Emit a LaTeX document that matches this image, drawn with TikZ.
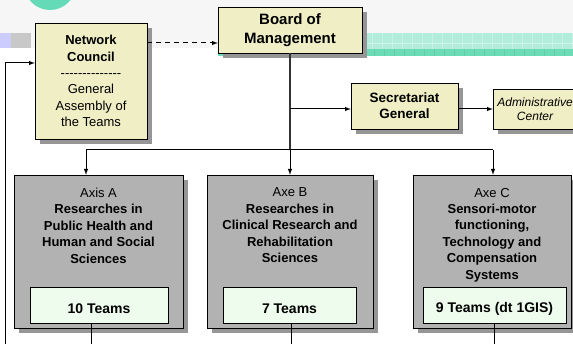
\documentclass[tikz,border=0pt]{standalone}
\usepackage{fontspec}
\setmainfont{Liberation Sans}
\usepackage{tikz}
\usetikzlibrary{arrows,shapes}
\usetikzlibrary{positioning}
\usetikzlibrary{shadows}
\definecolor{cream}{RGB}{240,238,196}
\definecolor{axisgray}{RGB}{178,178,178}
\definecolor{mint}{RGB}{238,252,238}
\definecolor{shadowgray}{RGB}{150,150,150}
\definecolor{bandgray}{RGB}{246,246,246}
\definecolor{tealpale}{RGB}{178,236,218}
\definecolor{tealdeep}{RGB}{108,220,182}
\definecolor{tealball}{RGB}{100,218,182}
\definecolor{lilac}{RGB}{204,204,255}
\definecolor{squaregray}{RGB}{200,200,200}
\tikzset{
    boxshadow/.style={drop shadow={shadow xshift=5pt, shadow yshift=-5pt, fill=shadowgray, opacity=1}},
    mainbox/.style={draw=black, fill=cream, boxshadow, align=center, inner sep=0pt,
        font=\bfseries\fontsize{13}{16.4}\selectfont},
    axisbox/.style={draw=black, fill=axisgray, boxshadow, inner sep=0pt, minimum height=153pt},
    axistext/.style={align=center, inner sep=0pt, font=\fontsize{13}{16.4}\selectfont},
    teambox/.style={draw=black, fill=mint, inner sep=0pt, minimum height=36pt},
    teamtext/.style={font=\bfseries\fontsize{14}{16}\selectfont, yshift=-4pt},
    link/.style={draw=black, line width=1pt, -latex},
    dashlink/.style={link, dash pattern=on 5pt off 4pt},
    plainlink/.style={draw=black, line width=1pt},
}

\begin{document}
\begin{tikzpicture}[x=1pt, y=-1pt]
	% page and template band
	\useasboundingbox (0,0) rectangle (573,344);
	\fill[white] (0,0) rectangle (573,344);
	\fill[bandgray] (0,0) rectangle (573,33);
	\fill[bandgray] (0,33) rectangle (218,48);
	\fill[tealpale] (218,33) rectangle (573,49);
	\fill[tealdeep] (218,49) rectangle (573,56);
	\foreach \x in {222,232,...,572}
		\draw[white, opacity=.3, line width=.5pt] (\x,33) -- (\x,49);
	\draw[white, opacity=.4, line width=.5pt] (218,43) -- (573,43);
	\foreach \x in {224,234,...,572}
		\draw[tealdeep!70!black, opacity=.25, line width=.5pt] (\x,49) -- (\x,56);
	\fill[lilac] (0,33) rectangle (11,48);
	\fill[squaregray] (11,33) rectangle (31,48);
	\fill[tealball] (50,-16) circle[radius=26pt];

	% boxes
	\node[mainbox, minimum width=112pt, minimum height=116pt] (council) at (91,81)
		{Network\\Council\\\textmd{-{}-{}-{}-{}-{}-{}-{}-{}-{}-{}-{}-{}-{}-}\\\textmd{General}\\\textmd{Assembly of}\\\textmd{the Teams}};
	\node[mainbox, minimum width=144pt, minimum height=46pt,
		font=\bfseries\fontsize{15}{19}\selectfont] (board) at (290,30) {Board of\\Management};
	\node[mainbox, minimum width=107pt, minimum height=46pt,
		font=\bfseries\fontsize{13.5}{16}\selectfont] (secr) at (404.5,106) {Secretariat\\General};
	\node[mainbox, minimum width=84pt, minimum height=40pt,
		font=\itshape\fontsize{12}{14.5}\selectfont] (admin) at (535,109) {Administrative\\Center};

	\node[axisbox, minimum width=169pt] (axisA) at (98.5,251.5) {};
	\node[axisbox, minimum width=166pt] (axeB) at (290,251.5) {};
	\node[axisbox, minimum width=158pt] (axeC) at (492,251.5) {};
	\node[axistext, below=13pt of axisA.north] (axisAtext)
		{Axis A\\\textbf{Researches in}\\\textbf{Public Health and}\\\textbf{Human and Social}\\\textbf{Sciences}};
	\node[axistext, below=13pt of axeB.north] (axeBtext)
		{Axe B\\\textbf{Researches in}\\\textbf{Clinical Research and}\\\textbf{Rehabilitation}\\\textbf{Sciences}};
	\node[axistext, below=13pt of axeC.north] (axeCtext)
		{Axe C\\\textbf{Sensori-motor}\\\textbf{functioning,}\\\textbf{Technology and}\\\textbf{Compensation}\\\textbf{Systems}};

	\node[teambox, minimum width=138pt, label={[teamtext]center:10 Teams}] (teamsA) at (99,305) {};
	\node[teambox, minimum width=133pt, label={[teamtext]center:7 Teams}] (teamsB) at (289.5,305) {};
	\node[teambox, minimum width=143pt, label={[teamtext]center:9 Teams (dt 1GIS)}] (teamsC) at (494.5,305) {};

	% connectors
	\coordinate (dashy) at (0,43);
	\coordinate (split) at (0,150);
	\coordinate (splitA) at (86,150);
	\coordinate (splitC) at (493,150);
	\coordinate (loopin) at (0,63);
	\coordinate (loopfoot) at (5,352);
	\coordinate (footA) at (91,352);
	\coordinate (footB) at (291,352);
	\coordinate (footC) at (494,352);
	\draw[dashlink] (council.east |- dashy) -- (board.west |- dashy);
	\draw[plainlink, line width=1.3pt, draw=black!80] (board.south) -- (board.south |- split);
	\draw[plainlink] (splitA) -- (splitC);
	\draw[link] (splitA) -- (splitA |- axisA.north);
	\draw[link] (board.south |- split) -- (axeB.north);
	\draw[link] (splitC) -- (splitC |- axeC.north);
	\draw[link] (board.south |- admin.west) -- (secr.west |- admin.west);
	\draw[link] (secr.east |- admin.west) -- (admin.west);
	\draw[link] (loopfoot) |- (council.west |- loopin);
	\draw[plainlink] (teamsA.south -| footA) -- (footA);
	\draw[plainlink] (teamsB.south -| footB) -- (footB);
	\draw[plainlink] (teamsC.south -| footC) -- (footC);
\end{tikzpicture}
\end{document}
